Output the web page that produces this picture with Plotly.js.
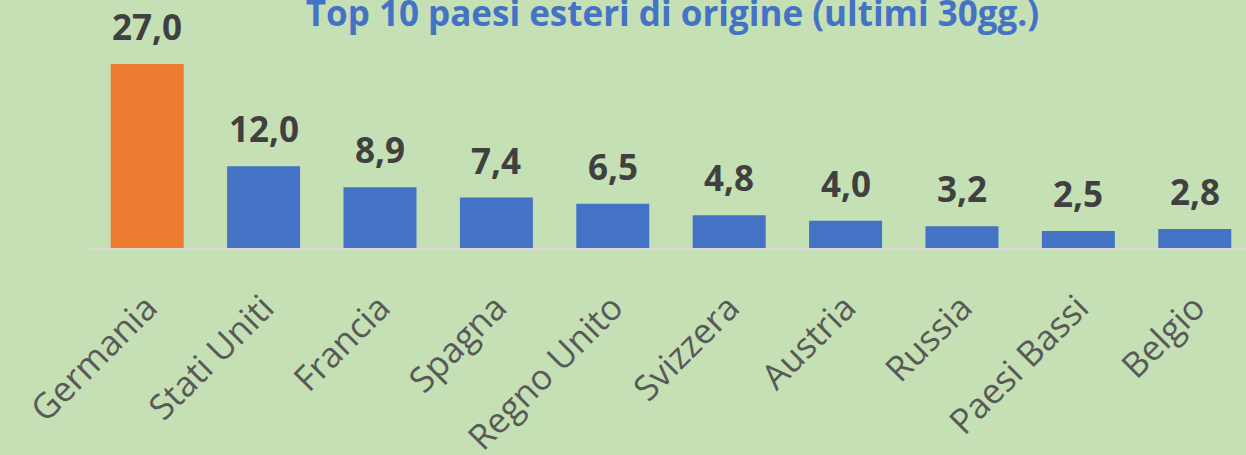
<!DOCTYPE html>
<html>
<head>
<meta charset="utf-8">
<script src="https://cdn.plot.ly/plotly-3.0.1.min.js"></script>
<style>html,body{margin:0;padding:0;background:#C5E0B4;overflow:hidden}</style>
</head>
<body>
<div id="chart" style="width:1246px;height:455px"></div>
<script>
const categories = ["Germania","Stati Uniti","Francia","Spagna","Regno Unito","Svizzera","Austria","Russia","Paesi Bassi","Belgio"];
const values = [27.0, 12.0, 8.9, 7.4, 6.5, 4.8, 4.0, 3.2, 2.5, 2.8];
const barColors = ["#ED7D31","#4472C4","#4472C4","#4472C4","#4472C4","#4472C4","#4472C4","#4472C4","#4472C4","#4472C4"];
const titleText = "Top 10 paesi esteri di origine (ultimi 30gg.)";

const labels = values.map(v => v.toFixed(1).replace('.', ','));

const trace = {
  type: 'bar',
  x: categories,
  y: values,
  marker: {color: barColors},
  hoverinfo: 'none'
};

const annotations = categories.map((c, i) => ({
  x: c, y: values[i], xref: 'x', yref: 'y',
  text: '<b>' + labels[i] + '</b>',
  showarrow: false,
  yanchor: 'bottom',
  yshift: 12,
  font: {family: 'Open Sans', size: 35, color: '#404040'}
}));

const layout = {
  width: 1246, height: 455,
  paper_bgcolor: '#C5E0B4',
  plot_bgcolor: '#C5E0B4',
  margin: {l: 89, r: 0, t: 20, b: 207},
  bargap: 0.373,
  showlegend: false,
  title: {
    text: '<b>' + titleText + '</b>',
    font: {family: 'Open Sans', size: 35, color: '#4472C4'},
    x: 0.5043, xanchor: 'center',
    xref: 'paper',
    y: 0.97, yref: 'container', yanchor: 'middle'
  },
  xaxis: {
    type: 'category',
    range: [-0.5, 9.44],
    showline: true, linecolor: '#D9D9D9', linewidth: 2,
    showgrid: false, zeroline: false,
    ticks: '', tickangle: -45,
    ticklabelstandoff: 23,
    tickfont: {family: 'Open Sans', size: 35, color: '#595959'}
  },
  yaxis: {
    visible: false,
    range: [0, 33.45],
    showgrid: false, zeroline: false
  },
  annotations: annotations
};

Plotly.newPlot('chart', [trace], layout, {displayModeBar: false, staticPlot: true});
</script>
</body>
</html>
